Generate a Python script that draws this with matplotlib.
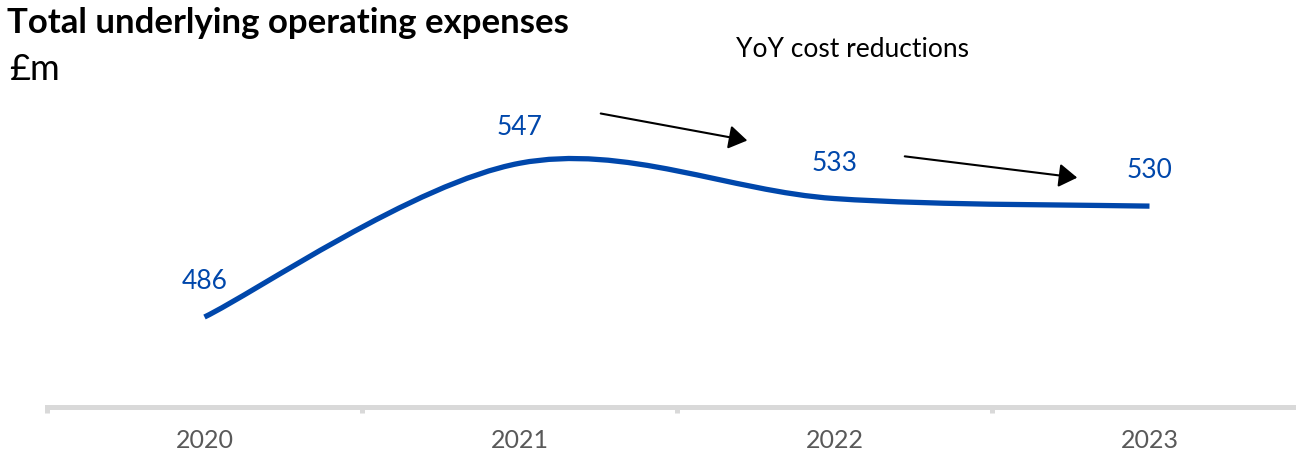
import matplotlib
matplotlib.use("Agg")
import matplotlib.pyplot as plt
from matplotlib.path import Path
from matplotlib.patches import PathPatch, FancyArrowPatch
import numpy as np

years = ["2020", "2021", "2022", "2023"]
values = [486, 547, 533, 530]
title = "Total underlying operating expenses"
unit = "£m"
note = "YoY cost reductions"

BLUE = "#0047AB"
GRAY_AXIS = "#D9D9D9"
GRAY_TEXT = "#595959"
FONT = ["Lato", "DejaVu Sans"]

W, H = 1296, 459
fig = plt.figure(figsize=(W / 100, H / 100), dpi=100)

def fx(px):
    return px / W

def fy(py):
    return 1 - py / H

ax = fig.add_axes([fx(47), fy(407), fx(1307) - fx(47), fy(100) - fy(407)])
ax.set_xlim(-0.5, 3.5)
ax.set_ylim(450.3, 572.1)

# Excel-like smoothed line: Catmull-Rom segments as cubic Bezier
xs = np.arange(len(values), dtype=float)
ys = np.array(values, dtype=float)
pts = np.column_stack([xs, ys])
verts = [tuple(pts[0])]
codes = [Path.MOVETO]
n = len(pts)
for i in range(n - 1):
    p0 = pts[i - 1] if i > 0 else pts[i]
    p1 = pts[i]
    p2 = pts[i + 1]
    p3 = pts[i + 2] if i + 2 < n else pts[i + 1]
    c1 = p1 + (p2 - p0) / 6.0
    c2 = p2 - (p3 - p1) / 6.0
    verts += [tuple(c1), tuple(c2), tuple(p2)]
    codes += [Path.CURVE4] * 3
ax.add_patch(PathPatch(Path(verts, codes), facecolor="none", edgecolor=BLUE,
                       lw=3.8, capstyle="butt"))

for x, v in zip(xs, values):
    ax.annotate(str(v), (x, v), xytext=(0, 20), textcoords="offset points",
                ha="center", va="baseline", color=BLUE, fontsize=19, family=FONT)

for s in ["top", "right", "left"]:
    ax.spines[s].set_visible(False)
ax.spines["bottom"].set_color(GRAY_AXIS)
ax.spines["bottom"].set_linewidth(3.6)
ax.set_yticks([])
ax.set_xticks(np.arange(-0.5, 4.0, 1.0))
ax.set_xticklabels([])
ax.tick_params(axis="x", which="major", length=4, width=3.6, color=GRAY_AXIS, direction="out")
ax.set_xticks(xs, minor=True)
ax.set_xticklabels(years, minor=True)
ax.tick_params(axis="x", which="minor", length=0, pad=16, labelsize=18, labelcolor=GRAY_TEXT)
for lab in ax.get_xticklabels(minor=True):
    lab.set_family(FONT)

fig.text(fx(7), fy(33), title, fontsize=25, fontweight="bold", family=FONT,
         ha="left", va="baseline", color="black")
fig.text(fx(9), fy(80), unit, fontsize=26, family=FONT, ha="left", va="baseline", color="black")
fig.text(fx(852), fy(57), note, fontsize=19, family=FONT, ha="center", va="baseline", color="black")

arrows = [((598, 113), (750, 141)), ((902, 156), (1080, 178))]
for (x0, y0), (x1, y1) in arrows:
    fig.add_artist(FancyArrowPatch(
        (fx(x0), fy(y0)), (fx(x1), fy(y1)), transform=fig.transFigure,
        arrowstyle="-|>,head_length=7,head_width=4.5", mutation_scale=1.6,
        color="black", lw=1.5))

fig.savefig("out.png", dpi=100)
